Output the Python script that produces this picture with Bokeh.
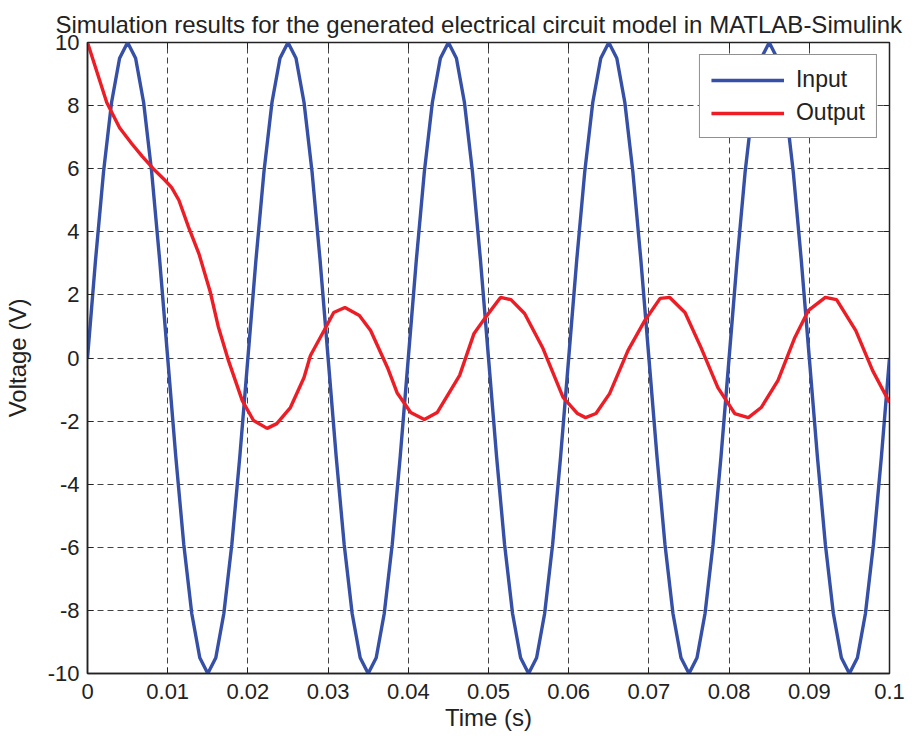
from bokeh.plotting import figure
from bokeh.models import LinearAxis, FixedTicker, Range1d, Legend, LegendItem
from bokeh.embed import file_html
from bokeh.resources import INLINE

# ---- data ----
t_in = [i / 1000 for i in range(101)]
v_in = [0, 3.1, 5.9, 8.1, 9.5, 10, 9.5, 8.1, 5.9, 3.1,
        0, -3.1, -5.9, -8.1, -9.5, -10, -9.5, -8.1, -5.9, -3.1,
        0, 3.1, 5.9, 8.1, 9.5, 10, 9.5, 8.1, 5.9, 3.1,
        0, -3.1, -5.9, -8.1, -9.5, -10, -9.5, -8.1, -5.9, -3.1,
        0, 3.1, 5.9, 8.1, 9.5, 10, 9.5, 8.1, 5.9, 3.1,
        0, -3.1, -5.9, -8.1, -9.5, -10, -9.5, -8.1, -5.9, -3.1,
        0, 3.1, 5.9, 8.1, 9.5, 10, 9.5, 8.1, 5.9, 3.1,
        0, -3.1, -5.9, -8.1, -9.5, -10, -9.5, -8.1, -5.9, -3.1,
        0, 3.1, 5.9, 8.1, 9.5, 10, 9.5, 8.1, 5.9, 3.1,
        0, -3.1, -5.9, -8.1, -9.5, -10, -9.5, -8.1, -5.9, -3.1,
        0]

t_out = [0, 0.0012, 0.0024, 0.004, 0.0055, 0.0068, 0.0082, 0.0096, 0.0105, 0.0114,
         0.0126, 0.0139, 0.0153, 0.0163, 0.0176, 0.0193, 0.0207, 0.0224, 0.0236, 0.0253,
         0.027, 0.0278, 0.0295, 0.0307, 0.0321, 0.0339, 0.0353, 0.0374, 0.0386, 0.0403,
         0.042, 0.0436, 0.0464, 0.0482, 0.0496, 0.0515, 0.0528, 0.0545, 0.0568, 0.0593,
         0.0611, 0.0621, 0.0634, 0.0651, 0.0674, 0.0695, 0.0714, 0.0726, 0.0745, 0.0765,
         0.0786, 0.0807, 0.0824, 0.084, 0.0861, 0.0882, 0.0899, 0.092, 0.0934, 0.0958,
         0.0979, 0.1]
v_out = [10, 9.05, 8.1, 7.3, 6.8, 6.4, 6.0, 5.65, 5.4, 5.0,
         4.15, 3.3, 2.1, 1.0, -0.1, -1.35, -1.98, -2.23, -2.08, -1.57,
         -0.62, 0.08, 0.87, 1.44, 1.6, 1.35, 0.87, -0.3, -1.1, -1.73,
         -1.95, -1.73, -0.55, 0.78, 1.28, 1.92, 1.85, 1.41, 0.3, -1.25,
         -1.76, -1.89, -1.76, -1.13, 0.24, 1.19, 1.89, 1.92, 1.44, 0.33,
         -0.94, -1.76, -1.89, -1.57, -0.71, 0.65, 1.51, 1.92, 1.85, 0.87,
         -0.4, -1.41]

x_ticks = [0, 0.01, 0.02, 0.03, 0.04, 0.05, 0.06, 0.07, 0.08, 0.09, 0.1]
x_tick_labels = ["0", "0.01", "0.02", "0.03", "0.04", "0.05", "0.06", "0.07", "0.08", "0.09", "0.1"]
y_ticks = [-10, -8, -6, -4, -2, 0, 2, 4, 6, 8, 10]
y_tick_labels = ["-10", "-8", "-6", "-4", "-2", "0", "2", "4", "6", "8", "10"]

FONT = "Liberation Sans"
TXT = "#222222"

p = figure(output_backend="svg", toolbar_location=None,
           frame_width=802, frame_height=631,
           x_range=Range1d(0, 0.1), y_range=Range1d(-10, 10),
           min_border_left=83, min_border_right=16, min_border_top=42, min_border_bottom=55,
           title="Simulation results for the generated electrical circuit model in MATLAB-Simulink")
p.title.text_font = FONT
p.title.text_font_size = "24px"
p.title.text_font_style = "normal"
p.title.text_color = TXT
p.title.offset = -32
p.title.standoff = 9

p.outline_line_color = "#222222"
p.outline_line_width = 1.5
p.background_fill_color = "white"
p.border_fill_color = "white"

xt = FixedTicker(ticks=x_ticks)
yt = FixedTicker(ticks=y_ticks)

p.xaxis.ticker = xt
p.xaxis.major_label_overrides = {t: l for t, l in zip(x_ticks, x_tick_labels)}
p.yaxis.ticker = yt
p.yaxis.major_label_overrides = {t: l for t, l in zip(y_ticks, y_tick_labels)}
for ax in (p.xaxis[0], p.yaxis[0]):
    ax.major_tick_in = 6
    ax.major_tick_out = 0
    ax.minor_tick_in = 0
    ax.minor_tick_out = 0
    ax.axis_line_color = "#222222"
    ax.axis_line_width = 1.5
    ax.major_tick_line_color = "#222222"
    ax.major_label_text_font = FONT
    ax.major_label_text_font_size = "22px"
    ax.major_label_text_color = TXT
    ax.axis_label_text_font = FONT
    ax.axis_label_text_font_size = "24px"
    ax.axis_label_text_font_style = "normal"
    ax.axis_label_text_color = TXT
p.xaxis.axis_label = "Time (s)"
p.yaxis.axis_label = "Voltage (V)"
p.xaxis.major_label_standoff = 10
p.yaxis.major_label_standoff = 8
p.xaxis.axis_label_standoff = 2
p.yaxis.axis_label_standoff = 14

top_ax = LinearAxis(ticker=FixedTicker(ticks=x_ticks),
                    major_label_overrides={t: "" for t in x_ticks},
                    major_tick_in=6, major_tick_out=0, minor_tick_in=0, minor_tick_out=0,
                    axis_line_color=None, major_tick_line_color="#222222")
right_ax = LinearAxis(ticker=FixedTicker(ticks=y_ticks),
                      major_label_overrides={t: "" for t in y_ticks},
                      major_tick_in=6, major_tick_out=0, minor_tick_in=0, minor_tick_out=0,
                      axis_line_color=None, major_tick_line_color="#222222")
p.add_layout(top_ax, "above")
p.add_layout(right_ax, "right")

p.xgrid.ticker = xt
p.ygrid.ticker = yt
for g in (p.xgrid[0], p.ygrid[0]):
    g.grid_line_color = "#444444"
    g.grid_line_dash = "6 4"
    g.grid_line_width = 1

r_in = p.line(t_in, v_in, line_color="#3550a6", line_width=3.4)
r_out = p.line(t_out, v_out, line_color="#ee1d25", line_width=3.4)

legend = Legend(items=[LegendItem(label="Input", renderers=[r_in]),
                       LegendItem(label="Output", renderers=[r_out])],
                location="top_right")
legend.label_text_font = FONT
legend.label_text_font_size = "23px"
legend.label_text_color = TXT
legend.border_line_color = "#222222"
legend.border_line_width = 1.2
legend.glyph_width = 73
legend.glyph_height = 26
legend.label_standoff = 12
legend.label_height = 26
legend.spacing = 6
legend.padding = 11
legend.margin = 12
legend.background_fill_alpha = 1
p.add_layout(legend)

open("out.html", "w").write(file_html(p, INLINE))
